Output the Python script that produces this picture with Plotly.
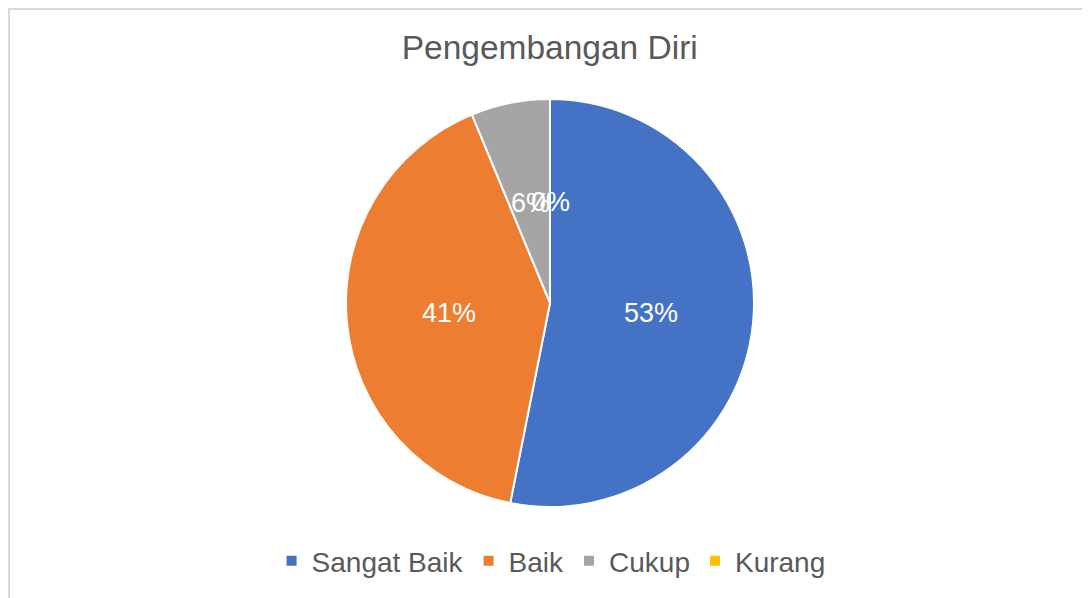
import math
import plotly.graph_objects as go

categories = ["Sangat Baik", "Baik", "Cukup", "Kurang"]
counts = [17, 13, 2, 0]
colors = ["#4472C4", "#ED7D31", "#A5A5A5", "#FFC000"]

FONT = "Liberation Sans, Arial, sans-serif"
W, H = 1090, 598
L, R, T, B = 2, 8, 91, 99
PW, PH = W - L - R, H - T - B
RADIUS = min(PW, PH) / 2 - 1

fig = go.Figure(go.Pie(
    labels=categories,
    values=counts,
    sort=False,
    direction="clockwise",
    rotation=0,
    marker=dict(colors=colors, line=dict(color="white", width=2)),
    textinfo="none",
    hoverinfo="label+value+percent",
))

# data labels at half radius (Excel style), derived from the values
total = sum(counts)
annotations = []
cum = 0.0
for c in counts:
    frac = c / total
    mid = (cum + frac / 2) * 2 * math.pi
    cum += frac
    r = 0.5 * RADIUS
    ax = 0.5 + r * math.sin(mid) / PW
    ay = 0.5 + r * math.cos(mid) / PH
    annotations.append(dict(
        x=ax, y=ay, xref="paper", yref="paper", showarrow=False,
        text=f"{round(frac * 100)}%", xanchor="center", yanchor="middle",
        font=dict(family=FONT, size=27, color="white"),
    ))

fig.update_layout(
    width=W, height=H,
    paper_bgcolor="white", plot_bgcolor="white",
    margin=dict(l=L, r=R, t=T, b=B),
    title=dict(text="Pengembangan Diri", x=0.497, xanchor="center", y=0.934, yanchor="middle",
               font=dict(family=FONT, size=33.5, color="#595959")),
    legend=dict(orientation="h", x=0.501, xanchor="center", y=-0.071, yanchor="top",
                font=dict(family=FONT, size=28, color="#595959"),
                itemwidth=30),
    annotations=annotations,
    shapes=[dict(type="rect", xref="paper", yref="paper",
                 x0=(1 - L) / PW, x1=1.05, y0=-0.5, y1=(PH + T - 1) / PH,
                 line=dict(color="#D9D9D9", width=2), fillcolor="rgba(0,0,0,0)", layer="below")],
)

fig.write_html("out.html")
